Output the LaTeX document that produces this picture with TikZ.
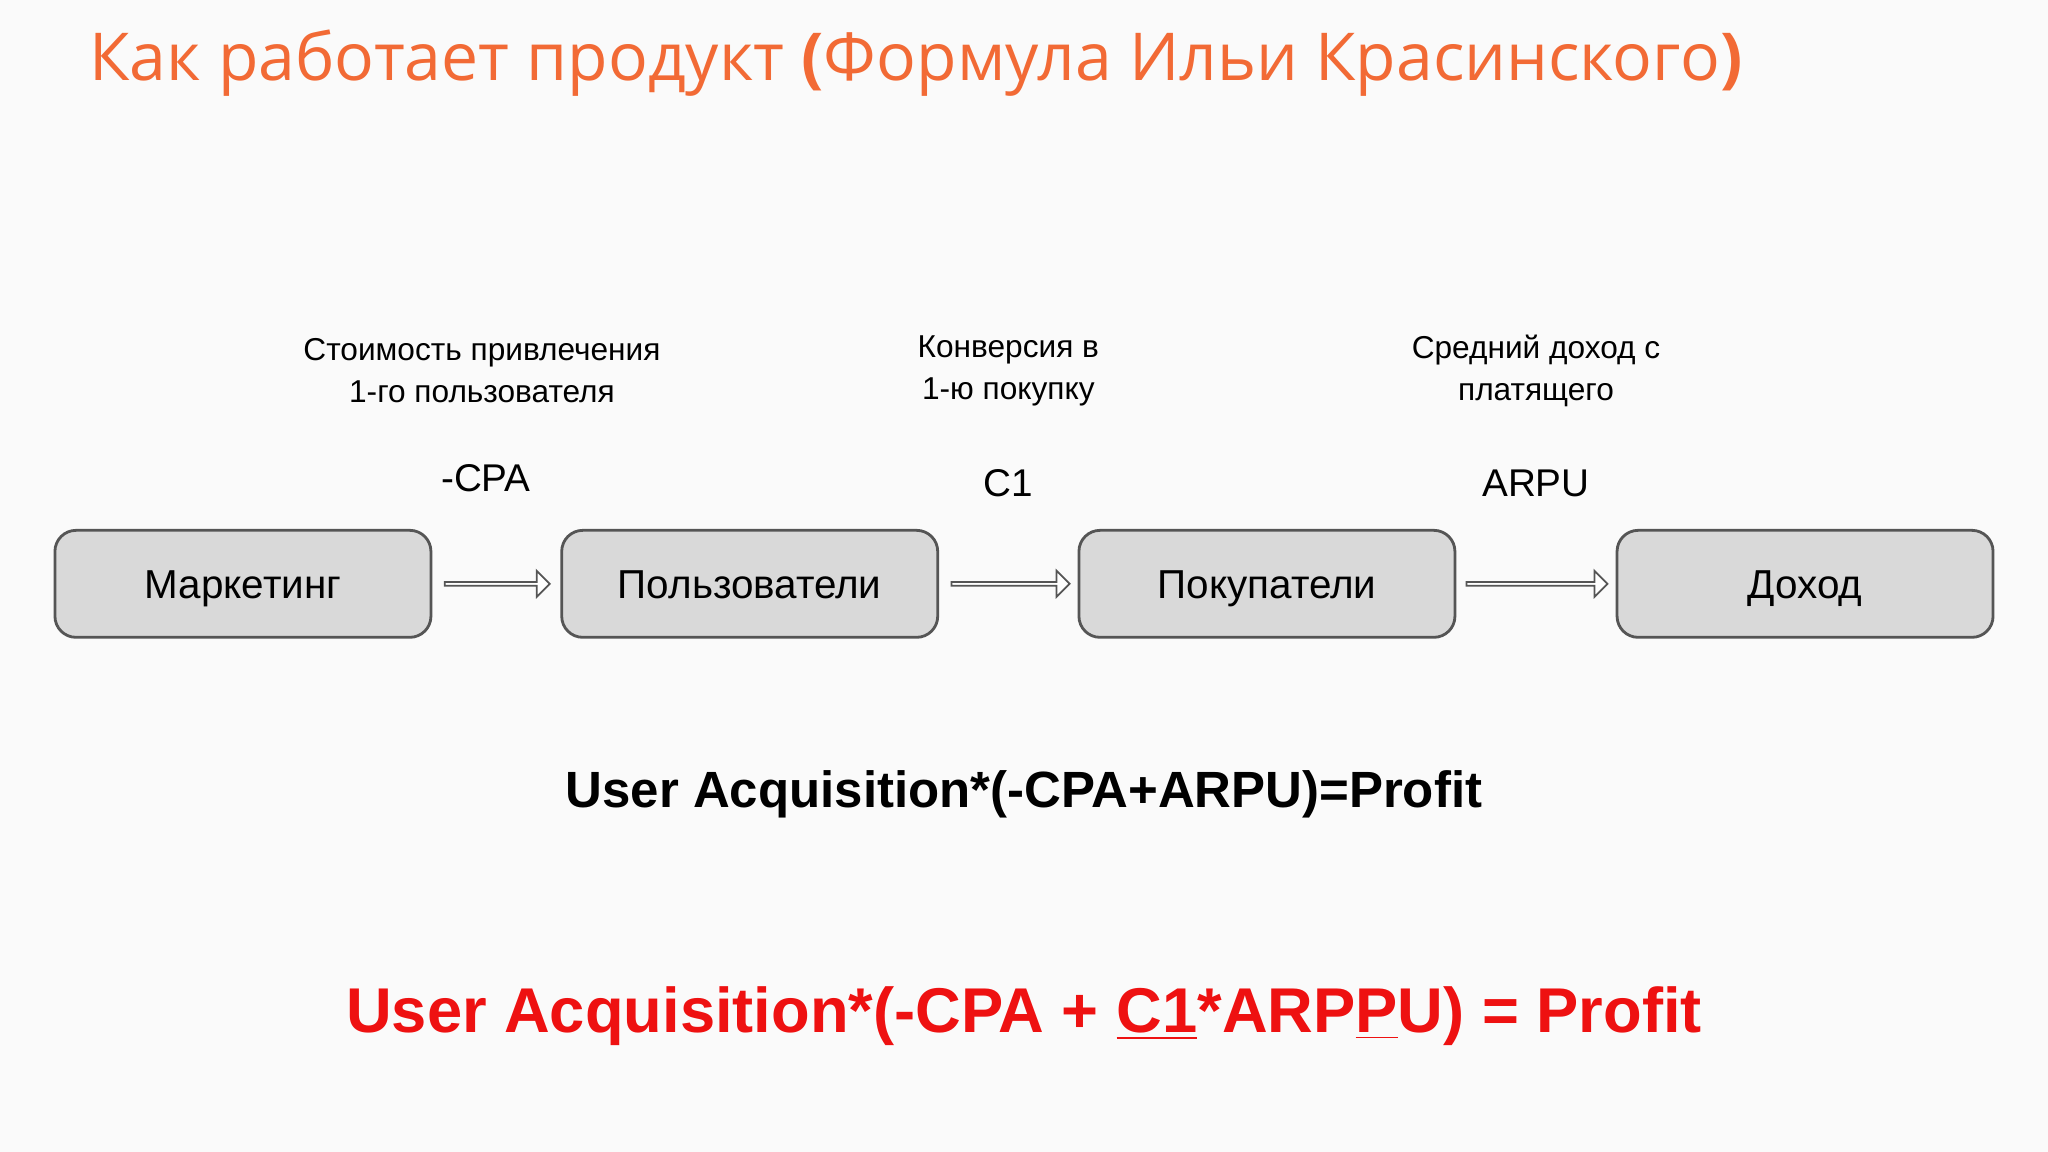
\documentclass[tikz,border=0pt]{standalone}
\usepackage{fontspec}
\setmainfont{Liberation Sans}
\newfontfamily\titlefont{Open Sans}
\usetikzlibrary{shapes.arrows}
\definecolor{bg}{HTML}{FAFAFA}
\definecolor{ttl}{HTML}{F26A35}
\definecolor{boxf}{HTML}{D9D9D9}
\definecolor{boxd}{HTML}{555555}
\definecolor{red1}{HTML}{EE1111}
\begin{document}
\begin{tikzpicture}[x=0.01306cm,y=-0.01306cm,
 stage/.style={draw=boxd,line width=0.8pt,fill=boxf,rounded corners=6pt,minimum width=3.76cm,minimum height=1.07cm,text height=2.2ex,text depth=0.6ex,font=\fontsize{11.5}{13}\selectfont},
 lbl/.style={align=center,font=\fontsize{9}{12}\selectfont},
 met/.style={font=\fontsize{11}{13}\selectfont},
 harrow/.style={single arrow,draw=boxd,fill=white,line width=0.5pt,minimum width=0.26cm,single arrow head extend=0.05cm,inner sep=0pt}]
\fill[bg] (0,0) rectangle (1568,882);
\node[anchor=west,inner sep=0pt,text=ttl,font=\titlefont\fontsize{18.8}{22}\selectfont] (title) at (68,48) {Как работает продукт \textbf{(}Формула Ильи Красинского\textbf{)}};
\node[stage] (m) at (186,447) {Маркетинг};
\node[stage] (u) at (574,447) {Пользователи};
\node[stage] (b) at (970,447) {Покупатели};
\node[stage] (d) at (1382,447) {Доход};
\node[harrow,minimum height=1.05cm] (a1) at (380,447) {};
\node[harrow,minimum height=1.18cm] (a2) at (773,447) {};
\node[harrow,minimum height=1.41cm] (a3) at (1176,447) {};
\node[lbl] (l1) at (369,284) {Стоимость привлечения\\1-го пользователя};
\node[lbl] (l2) at (772,284) {Конверсия в\\1-ю покупку};
\node[lbl] (l3) at (1176,284) {Средний доход с\\платящего};
\node[met] (c1) at (372,366) {-CPA};
\node[met] (c2) at (772,370) {C1};
\node[met] (c3) at (1176,370) {ARPU};
\node[font=\bfseries\fontsize{14.5}{17}\selectfont] (f1) at (784,608) {User Acquisition*(-CPA+ARPU)=Profit};
\node[text=red1,font=\bfseries\fontsize{18}{23}\selectfont] (f2) at (784,778) {User Acquisition*(-CPA + \underline{C1}*ARP\underline{P}U) = Profit};
\end{tikzpicture}
\end{document}
